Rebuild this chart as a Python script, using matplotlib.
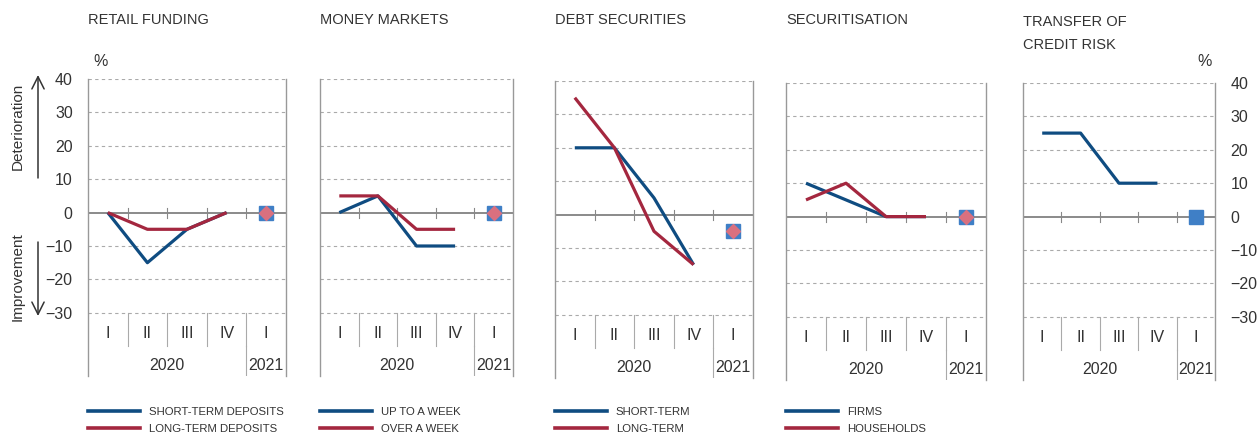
import matplotlib
matplotlib.use("Agg")
import matplotlib.pyplot as plt
from matplotlib.lines import Line2D

plt.rcParams['font.family'] = ['Liberation Sans', 'DejaVu Sans']

quarters = ["I", "II", "III", "IV", "I"]
years = ["2020", "2021"]

titles = ["RETAIL FUNDING", "MONEY MARKETS", "DEBT SECURITIES", "SECURITISATION",
          "TRANSFER OF\nCREDIT RISK"]

# 2020 Q1-Q4 lines, then 2021 Q1 point
retail_short = [0, -15, -5, 0]
retail_long = [0, -5, -5, 0]
retail_2021 = [0, 0]
money_short = [0, 5, -10, -10]
money_long = [5, 5, -5, -5]
money_2021 = [0, 0]
debt_short = [20, 20, 5, -15]
debt_long = [35, 20, -5, -15]
debt_2021 = [-5, -5]
secur_firms = [10, 5, 0, 0]
secur_house = [5, 10, 0, 0]
secur_2021 = [0, 0]
credit_risk = [25, 25, 10, 10]
credit_2021 = [0]

series = [
    (retail_short, retail_long, retail_2021, ["SHORT-TERM DEPOSITS", "LONG-TERM DEPOSITS"]),
    (money_short, money_long, money_2021, ["UP TO A WEEK", "OVER A WEEK"]),
    (debt_short, debt_long, debt_2021, ["SHORT-TERM", "LONG-TERM"]),
    (secur_firms, secur_house, secur_2021, ["FIRMS", "HOUSEHOLDS"]),
    (credit_risk, None, credit_2021, None),
]

BLUE = "#0f4c81"
RED = "#a4273f"
SQ = "#3f7fc6"
DIA = "#d9707f"
TXT = "#333333"
GRID = "#aaaaaa"
NUM = 11.5

W, H = 1259, 434
fig = plt.figure(figsize=(W / 100, H / 100), dpi=100)

lefts = [88, 320, 555, 786, 1023]
widths = [198, 193, 198, 200, 192]
tops = [79, 79, 81, 83, 83]
ymin, ymax = -49, 40
pxu = 3.34

for k in range(5):
    hpx = (ymax - ymin) * pxu
    ax = fig.add_axes([lefts[k] / W, 1 - (tops[k] + hpx) / H, widths[k] / W, hpx / H])
    ax.set_xlim(-0.5, 4.5)
    ax.set_ylim(ymin, ymax)
    for s in ["top", "bottom"]:
        ax.spines[s].set_visible(False)
    for s in ["left", "right"]:
        ax.spines[s].set_color("#999999")
        ax.spines[s].set_linewidth(1.0)
    ax.set_xticks([])
    ax.set_yticks(range(-30, 41, 10))
    if k == 0:
        ax.tick_params(axis="y", length=0, pad=11, labelsize=NUM, labelcolor=TXT)
    elif k == 4:
        ax.yaxis.tick_right()
        ax.tick_params(axis="y", length=0, pad=11, labelsize=NUM, labelcolor=TXT)
    else:
        ax.tick_params(axis="y", length=0)
        ax.set_yticklabels([])

    for v in range(-30, 41, 10):
        if v != 0:
            ax.axhline(v, color=GRID, lw=0.8, ls=(0, (3, 3)), zorder=1)
    ax.axhline(0, color="#777777", lw=1.2, zorder=2)
    for b in [0.5, 1.5, 2.5, 3.5]:
        ax.plot([b, b], [-1.5, 1.5], color="#888888", lw=0.8, zorder=2)
        ax.plot([b, b], [-30, -39.8], color=GRID, lw=0.8)
    ax.plot([3.5, 3.5], [-39.8, ymin], color=GRID, lw=0.8)

    for i, q in enumerate(quarters):
        ax.text(i, -36.2, q, ha="center", va="center", fontsize=NUM, color=TXT)
    ax.text(1.5, -45.8, years[0], ha="center", va="center", fontsize=NUM, color=TXT)
    ax.text(4, -45.8, years[1], ha="center", va="center", fontsize=NUM, color=TXT)

    a, b, pt, labels = series[k]
    ax.plot(range(4), a, color=BLUE, lw=2.3, zorder=4, solid_capstyle="butt")
    if b is not None:
        ax.plot(range(4), b, color=RED, lw=2.3, zorder=4, solid_capstyle="butt")
    ax.plot([4], [pt[0]], marker="s", ms=10, color=SQ, ls="none", zorder=5)
    if len(pt) > 1:
        ax.plot([4], [pt[1]], marker="D", ms=7, color=DIA, ls="none", zorder=6)

    if k < 4:
        fig.text(lefts[k] / W, 1 - 20 / H, titles[k], fontsize=10.5, color=TXT,
                 ha="left", va="center")
    else:
        fig.text(lefts[k] / W, 1 - 22 / H, "TRANSFER OF", fontsize=10.5, color=TXT,
                 ha="left", va="center")
        fig.text(lefts[k] / W, 1 - 45 / H, "CREDIT RISK", fontsize=10.5, color=TXT,
                 ha="left", va="center")

    if labels is not None:
        handles = [Line2D([], [], color=BLUE, lw=2.6), Line2D([], [], color=RED, lw=2.6)]
        fig.legend(handles, labels, loc="upper left",
                   bbox_to_anchor=(lefts[k] / W, 1 - 407 / H), frameon=False,
                   prop={"size": 8.2}, labelcolor=TXT, handlelength=4.6,
                   handletextpad=0.75, labelspacing=0.6, borderpad=0, borderaxespad=0)

fig.text(93 / W, 1 - 62 / H, "%", fontsize=NUM, color=TXT, ha="left", va="center")
fig.text(1212 / W, 1 - 62 / H, "%", fontsize=NUM, color=TXT, ha="right", va="center")

fig.text(18 / W, 1 - 126 / H, "Deterioration", rotation=90, fontsize=11, color=TXT,
         ha="center", va="center")
fig.text(18 / W, 1 - 277 / H, "Improvement", rotation=90, fontsize=11, color=TXT,
         ha="center", va="center")
arrow = dict(arrowstyle="->", lw=1.1, color=TXT, mutation_scale=22, shrinkA=0, shrinkB=0)
fig.add_artist(plt.Annotation("", xy=(38 / W, 1 - 75 / H), xytext=(38 / W, 1 - 178 / H),
                              xycoords="figure fraction", textcoords="figure fraction",
                              arrowprops=arrow))
fig.add_artist(plt.Annotation("", xy=(38 / W, 1 - 316 / H), xytext=(38 / W, 1 - 242 / H),
                              xycoords="figure fraction", textcoords="figure fraction",
                              arrowprops=arrow))

fig.savefig("out.png", dpi=100)
